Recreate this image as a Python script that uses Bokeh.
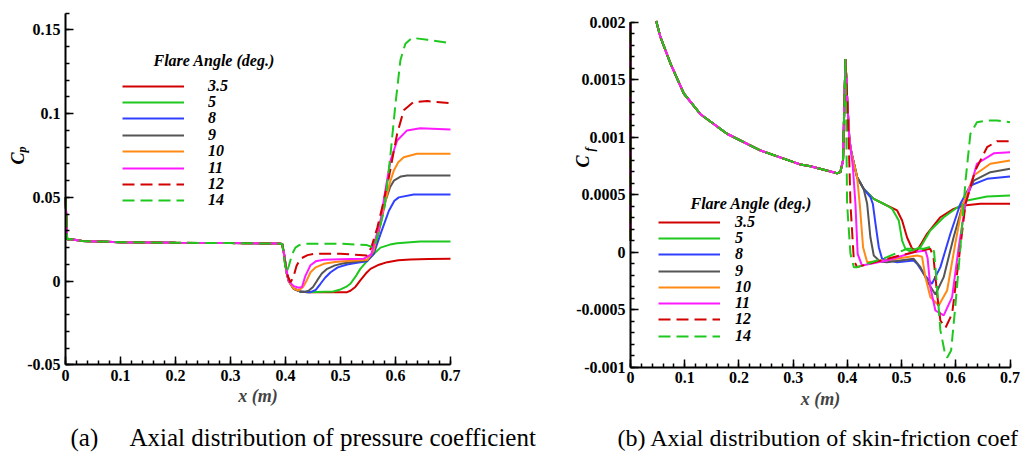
import numpy as np
from bokeh.plotting import figure
from bokeh.models import Range1d, FixedTicker, Label, Legend, LegendItem, LinearAxis
from bokeh.embed import file_html
from bokeh.resources import INLINE

NAN = float("nan")

# ---------------- data ----------------
ANGLES = ["3.5", "5", "8", "9", "10", "11", "12", "14"]
COLORS = ["#d20000", "#1fc81f", "#3140ff", "#555555", "#ff8a14", "#ff1aff", "#d20000", "#1fc81f"]
DASHES = ["solid", "solid", "solid", "solid", "solid", "solid", "12 6", "12 6"]

# Pressure coefficient: common upstream part
CP_PRE_X = [0.0, 0.003, 0.008, 0.03, 0.1, 0.2, 0.3, 0.385, 0.394]
CP_PRE_Y = [0.050, 0.0250, 0.0252, 0.0240, 0.0232, 0.0229, 0.0227, 0.0224, 0.0222]

cp_x_3_5 = [0.398, 0.402, 0.406, 0.415, 0.427, 0.44, 0.48, 0.512, 0.518, 0.527, 0.536, 0.546, 0.5545, 0.57, 0.585, 0.605, 0.627, 0.66, 0.70]
cp_y_3_5 = [0.015, 0.005, 0.0, -0.0046, -0.0062, -0.0066, -0.0067, -0.0066, -0.0058, -0.0035, 0.0004, 0.0045, 0.0073, 0.0098, 0.0113, 0.0124, 0.0129, 0.0132, 0.0133]
cp_x_5 = [0.398, 0.402, 0.406, 0.415, 0.427, 0.44, 0.487, 0.50, 0.51, 0.518, 0.527, 0.536, 0.5545, 0.5727, 0.59, 0.603, 0.645, 0.70]
cp_y_5 = [0.015, 0.005, 0.0, -0.0046, -0.0062, -0.0066, -0.0062, -0.0050, -0.0035, -0.0016, 0.0025, 0.0073, 0.0143, 0.0200, 0.0218, 0.0226, 0.0237, 0.0237]
cp_x_8 = [0.398, 0.402, 0.406, 0.415, 0.427, 0.4455, 0.455, 0.4636, 0.472, 0.482, 0.495, 0.512, 0.53, 0.5485, 0.56, 0.5727, 0.588, 0.598, 0.606, 0.633, 0.70]
cp_y_8 = [0.015, 0.005, 0.0, -0.0046, -0.0062, -0.0066, -0.0052, -0.0016, 0.0020, 0.0053, 0.0082, 0.0099, 0.0110, 0.0119, 0.0160, 0.0280, 0.0420, 0.0480, 0.0500, 0.0517, 0.0517]
cp_x_9 = [0.398, 0.402, 0.406, 0.415, 0.427, 0.433, 0.442, 0.45, 0.4576, 0.466, 0.4758, 0.49, 0.506, 0.525, 0.5485, 0.56, 0.57, 0.582, 0.59, 0.597, 0.61, 0.621, 0.70]
cp_y_9 = [0.015, 0.005, 0.0, -0.0046, -0.0062, -0.0066, -0.0058, -0.0035, 0.0004, 0.0045, 0.0073, 0.0094, 0.0107, 0.0116, 0.0123, 0.0170, 0.0300, 0.0480, 0.0560, 0.0600, 0.0625, 0.0630, 0.0630]
cp_x_10 = [0.398, 0.402, 0.406, 0.415, 0.424, 0.432, 0.438, 0.4455, 0.455, 0.4697, 0.49, 0.506, 0.5485, 0.56, 0.5788, 0.59, 0.597, 0.605, 0.615, 0.639, 0.70]
cp_y_10 = [0.015, 0.005, 0.0, -0.0046, -0.0056, -0.0035, 0.0, 0.0053, 0.0082, 0.0103, 0.0114, 0.0119, 0.0127, 0.0180, 0.0440, 0.0590, 0.0660, 0.0710, 0.0740, 0.0760, 0.0760]
cp_x_11 = [0.398, 0.402, 0.406, 0.415, 0.424, 0.430, 0.436, 0.4455, 0.455, 0.4697, 0.50, 0.542, 0.556, 0.5727, 0.582, 0.591, 0.603, 0.621, 0.645, 0.70]
cp_y_11 = [0.015, 0.006, 0.0, -0.0030, -0.0040, -0.0035, 0.0030, 0.0095, 0.0118, 0.0127, 0.0131, 0.0133, 0.0160, 0.0360, 0.0550, 0.0720, 0.0840, 0.0900, 0.0913, 0.0906]
cp_x_12 = [0.398, 0.403, 0.409, 0.414, 0.420, 0.427, 0.44, 0.4515, 0.50, 0.548, 0.556, 0.567, 0.578, 0.588, 0.603, 0.615, 0.633, 0.658, 0.70]
cp_y_12 = [0.013, 0.004, -0.0007, 0.0020, 0.0090, 0.0133, 0.0155, 0.0163, 0.0163, 0.0153, 0.0200, 0.0320, 0.0470, 0.0620, 0.0880, 0.1020, 0.1070, 0.1075, 0.1063]
cp_x_14 = [0.398, 0.402, 0.406, 0.412, 0.418, 0.425, 0.433, 0.50, 0.548, 0.5606, 0.57, 0.579, 0.585, 0.591, 0.60, 0.609, 0.618, 0.63, 0.658, 0.70]
cp_y_14 = [0.012, 0.0053, 0.0090, 0.0160, 0.0200, 0.0215, 0.0223, 0.0223, 0.0215, 0.0200, 0.0300, 0.0420, 0.0580, 0.0760, 0.1060, 0.1320, 0.1418, 0.1453, 0.1441, 0.1421]

# Skin-friction coefficient: common upstream part (leading-edge values above 0.002 are off the chart)
CF_PRE_X = [0.0, 0.0, NAN, 0.0474, 0.0553, 0.0738, 0.0983, 0.129, 0.178, 0.240, 0.301, 0.3135, 0.332, 0.381, 0.387, 0.392, 0.3965]
CF_PRE_Y = [0.0001, 0.002, NAN, 0.00201, 0.00187, 0.00164, 0.00138, 0.00120, 0.00103, 0.000884, 0.000783, 0.000763, 0.000748, 0.000687, 0.000696, 0.000797, 0.00168]

cf_x_3_5 = [0.400, 0.4035, 0.4057, 0.4088, 0.418, 0.430, 0.4487, 0.473, 0.4918, 0.501, 0.510, 0.5195, 0.5287, 0.537, 0.547, 0.5716, 0.596, 0.6146, 0.6454, 0.70]
cf_y_3_5 = [0.0013, 0.00100, 0.00091, 0.00084, 0.000652, 0.000551, 0.000464, 0.000406, 0.000363, 0.000276, 0.00013, 0.00003, 0.000015, 0.00008, 0.00016, 0.000304, 0.000377, 0.000406, 0.000421, 0.000421]
cf_x_5 = [0.400, 0.4035, 0.4057, 0.4088, 0.418, 0.430, 0.4487, 0.473, 0.4825, 0.4948, 0.501, 0.507, 0.515, 0.5224, 0.5348, 0.553, 0.5777, 0.602, 0.621, 0.6577, 0.70]
cf_y_5 = [0.0013, 0.00100, 0.00091, 0.00084, 0.000652, 0.000551, 0.000464, 0.000406, 0.000377, 0.000276, 0.0001, 0.00003, 0.00001, 0.00002, 0.000043, 0.000189, 0.000304, 0.000386, 0.00045, 0.000484, 0.000493]
cf_x_8 = [0.400, 0.4035, 0.4057, 0.4088, 0.418, 0.430, 0.4425, 0.447, 0.4518, 0.458, 0.464, 0.4918, 0.5224, 0.5286, 0.541, 0.556, 0.5716, 0.590, 0.6085, 0.627, 0.6577, 0.70]
cf_y_8 = [0.0013, 0.00100, 0.00091, 0.00084, 0.000652, 0.000551, 0.00048, 0.00042, 0.00025, 0.000043, -0.000057, -0.000087, -0.000072, -0.000101, -0.000188, -0.000275, -0.00013, 0.00016, 0.000421, 0.00058, 0.000638, 0.000658]
cf_x_9 = [0.400, 0.4035, 0.4057, 0.4088, 0.418, 0.430, 0.4365, 0.4425, 0.4487, 0.46, 0.473, 0.5224, 0.5348, 0.550, 0.5624, 0.5777, 0.596, 0.6116, 0.633, 0.6638, 0.70]
cf_y_9 = [0.0013, 0.00100, 0.00091, 0.00084, 0.000652, 0.000551, 0.000421, 0.00013, -0.000029, -0.00008, -0.000087, -0.000057, -0.00013, -0.000275, -0.000368, -0.000217, 0.00013, 0.000391, 0.000623, 0.000696, 0.000725]
cf_x_10 = [0.400, 0.4035, 0.4057, 0.4088, 0.418, 0.4228, 0.429, 0.4365, 0.473, 0.5287, 0.5378, 0.544, 0.553, 0.5685, 0.584, 0.599, 0.6116, 0.633, 0.6638, 0.70]
cf_y_10 = [0.0013, 0.00100, 0.00091, 0.00084, 0.000652, 0.000421, 0.000043, -0.000087, -0.00007, -0.000029, -0.00004, -0.000217, -0.00039, -0.000463, -0.000333, 0.000073, 0.00039, 0.000667, 0.000769, 0.000797]
cf_x_11 = [0.400, 0.4035, 0.4057, 0.410, 0.4149, 0.419, 0.427, 0.473, 0.5224, 0.544, 0.548, 0.553, 0.5624, 0.5777, 0.5932, 0.6054, 0.618, 0.639, 0.67, 0.70]
cf_y_11 = [0.0013, 0.00100, 0.00091, 0.00075, 0.000421, -0.000014, -0.000116, -0.000072, 0.0, 0.000015, -0.00005, -0.000304, -0.000507, -0.00055, -0.00039, 0.000043, 0.000421, 0.000769, 0.00086, 0.00087]
cf_x_12 = [0.400, 0.4035, 0.4057, 0.412, 0.418, 0.473, 0.5348, 0.553, 0.559, 0.5655, 0.5716, 0.581, 0.5932, 0.6054, 0.618, 0.636, 0.6577, 0.676, 0.70]
cf_y_12 = [0.0013, 0.0008, 0.000421, -0.000072, -0.00013, -0.000057, 0.000015, 0.00003, -0.00005, -0.000362, -0.000594, -0.000657, -0.000536, -0.000072, 0.000421, 0.00071, 0.000913, 0.000965, 0.000965]
cf_x_14 = [0.398, 0.3995, 0.4057, 0.412, 0.418, 0.473, 0.510, 0.541, 0.556, 0.560, 0.5655, 0.5716, 0.579, 0.584, 0.5914, 0.599, 0.6085, 0.618, 0.627, 0.639, 0.6577, 0.676, 0.70]
cf_y_14 = [0.0011, 0.000421, -0.000014, -0.00013, -0.00013, -0.000043, 0.00003, 0.00003, 0.00005, 0.0, -0.000304, -0.00068, -0.000855, -0.000918, -0.000855, -0.000478, 0.000043, 0.000623, 0.00103, 0.00113, 0.001145, 0.001145, 0.00113]

CP_X = [cp_x_3_5, cp_x_5, cp_x_8, cp_x_9, cp_x_10, cp_x_11, cp_x_12, cp_x_14]
CP_Y = [cp_y_3_5, cp_y_5, cp_y_8, cp_y_9, cp_y_10, cp_y_11, cp_y_12, cp_y_14]
CF_X = [cf_x_3_5, cf_x_5, cf_x_8, cf_x_9, cf_x_10, cf_x_11, cf_x_12, cf_x_14]
CF_Y = [cf_y_3_5, cf_y_5, cf_y_8, cf_y_9, cf_y_10, cf_y_11, cf_y_12, cf_y_14]

X_TICKS = [0.0, 0.1, 0.2, 0.3, 0.4, 0.5, 0.6, 0.7]
X_LABELS = ["0", "0.1", "0.2", "0.3", "0.4", "0.5", "0.6", "0.7"]
CP_TICKS = [-0.05, 0.0, 0.05, 0.1, 0.15]
CP_LABELS = ["-0.05", "0", "0.05", "0.1", "0.15"]
CF_TICKS = [-0.001, -0.0005, 0.0, 0.0005, 0.001, 0.0015, 0.002]
CF_LABELS = ["-0.001", "-0.0005", "0", "0.0005", "0.001", "0.0015", "0.002"]

CP_RANGE = (-0.05, 0.16)
CF_RANGE = (-0.001, 0.002)
X_RANGE = (0.0, 0.7)

# ---------------- layout (pixels on the 1020x464 canvas, y measured from top) ----------------
W, H = 1020, 464
SERIF = "Liberation Serif"
A_BOX = (65, 450, 364.3, 12.7)     # left, right, bottom, top of panel (a) axes box
B_BOX = (630, 1009.5, 366.7, 21.7)  # same for panel (b)
LEG_ROW_H = 18.0                    # rendered height of one legend row


def full_range(lo, hi, p_lo, p_hi, total, flip=False):
    """Range spanning the whole canvas such that lo maps to pixel p_lo and hi to p_hi."""
    if flip:  # vertical: pixels grow downward
        scale = (hi - lo) / (p_lo - p_hi)
        return Range1d(lo - (total - p_lo) * scale, hi + p_hi * scale)
    scale = (hi - lo) / (p_hi - p_lo)
    return Range1d(lo - p_lo * scale, hi + (total - p_hi) * scale)


p = figure(width=W, height=H, output_backend="svg", toolbar_location=None,
           x_range=full_range(*X_RANGE, A_BOX[0], A_BOX[1], W),
           y_range=full_range(*CP_RANGE, A_BOX[2], A_BOX[3], H, flip=True),
           x_axis_location=None, y_axis_location=None,
           min_border_left=0, min_border_right=0, min_border_top=0, min_border_bottom=0)
p.extra_x_ranges = {"b": full_range(*X_RANGE, B_BOX[0], B_BOX[1], W)}
p.extra_y_ranges = {"b": full_range(*CF_RANGE, B_BOX[2], B_BOX[3], H, flip=True)}
p.outline_line_color = None
p.grid.visible = False
p.background_fill_color = "white"
p.border_fill_color = "white"


def style_axis(ax, ticks, labels, minor):
    ax.ticker = FixedTicker(ticks=ticks, minor_ticks=minor)
    ax.major_label_overrides = {t: l for t, l in zip(ticks, labels)}
    ax.axis_line_width = 2
    ax.axis_line_color = "black"
    ax.major_tick_in = 8
    ax.major_tick_out = 0
    ax.minor_tick_in = 4
    ax.minor_tick_out = 0
    ax.major_tick_line_width = 1.5
    ax.minor_tick_line_width = 1.5
    ax.major_label_text_font = SERIF
    ax.major_label_text_font_style = "bold"
    ax.major_label_text_font_size = "16px"
    ax.major_label_text_color = "black"
    ax.major_label_standoff = 5


def add_panel(rname, yr, yticks, ylabels, xs, ys, pre_x, pre_y):
    kw = {} if rname is None else dict(x_range_name=rname, y_range_name=rname)
    xminor = [round(v, 3) for v in np.arange(X_RANGE[0], X_RANGE[1] + 0.001, 0.02)]
    step = (yticks[1] - yticks[0]) / 5.0
    yminor = [round(v, 6) for v in np.arange(yr[0], yr[1] + step / 2, step)]

    xa = LinearAxis(fixed_location=yr[0], bounds=X_RANGE, **kw)
    style_axis(xa, X_TICKS, X_LABELS, xminor)
    xa.axis_label = "x (m)"
    xa.axis_label_text_font = SERIF
    xa.axis_label_text_font_style = "bold italic"
    xa.axis_label_text_font_size = "18px"
    xa.axis_label_standoff = 2
    p.add_layout(xa, "below")

    ya = LinearAxis(fixed_location=X_RANGE[0], bounds=yr, **kw)
    style_axis(ya, yticks, ylabels, yminor)
    p.add_layout(ya, "left")

    items = []
    for i, ang in enumerate(ANGLES):
        r = p.line(list(pre_x) + list(xs[i]), list(pre_y) + list(ys[i]),
                   line_color=COLORS[i], line_width=2, line_dash=DASHES[i], **kw)
        items.append(LegendItem(label=ang, renderers=[r]))
    return items


def add_legend(items, left_px, first_row_y, row_step, standoff):
    # one legend box per entry so that the row pitch matches the original exactly
    for i, item in enumerate(items):
        cy = first_row_y + i * row_step
        leg = Legend(items=[item], location=(left_px, H - (cy + LEG_ROW_H / 2)),
                     border_line_color=None, background_fill_alpha=0, padding=0, margin=0,
                     spacing=0, glyph_width=62, glyph_height=16, label_height=16,
                     label_standoff=standoff, label_text_font=SERIF,
                     label_text_font_style="bold italic", label_text_font_size="16px",
                     label_text_color="black")
        p.add_layout(leg)


def add_text(x, y, text, size, style="bold italic", angle=0.0, align="left"):
    p.add_layout(Label(x=x, y=y, x_units="canvas", y_units="canvas", text=text, angle=angle,
                       text_font=SERIF, text_font_style=style, text_font_size=size,
                       text_baseline="middle", text_align=align, text_color="black"))


items_a = add_panel(None, CP_RANGE, CP_TICKS, CP_LABELS, CP_X, CP_Y, CP_PRE_X, CP_PRE_Y)
items_b = add_panel("b", CF_RANGE, CF_TICKS, CF_LABELS, CF_X, CF_Y, CF_PRE_X, CF_PRE_Y)
add_legend(items_a, 122, 85.7, 16.37, 24)
add_legend(items_b, 658, 221.7, 16.29, 15)

add_text(153, 60, "Flare Angle (deg.)", "16px")
add_text(690, 203, "Flare Angle (deg.)", "16px")

add_text(17, 158, "C", "18px", angle=np.pi / 2, align="center")
add_text(21, 149, "p", "12px", angle=np.pi / 2, align="center")
add_text(582, 161, "C", "18px", angle=np.pi / 2, align="center")
add_text(589.5, 149, "f", "12px", angle=np.pi / 2, align="center")

add_text(70, 437, "(a)", "25px", style="normal")
add_text(129, 437, "Axial distribution of pressure coefficient", "25px", style="normal")
add_text(617, 437, "(b) Axial distribution of skin-friction coef", "24px", style="normal")

open("out.html", "w").write(file_html(p, INLINE))
